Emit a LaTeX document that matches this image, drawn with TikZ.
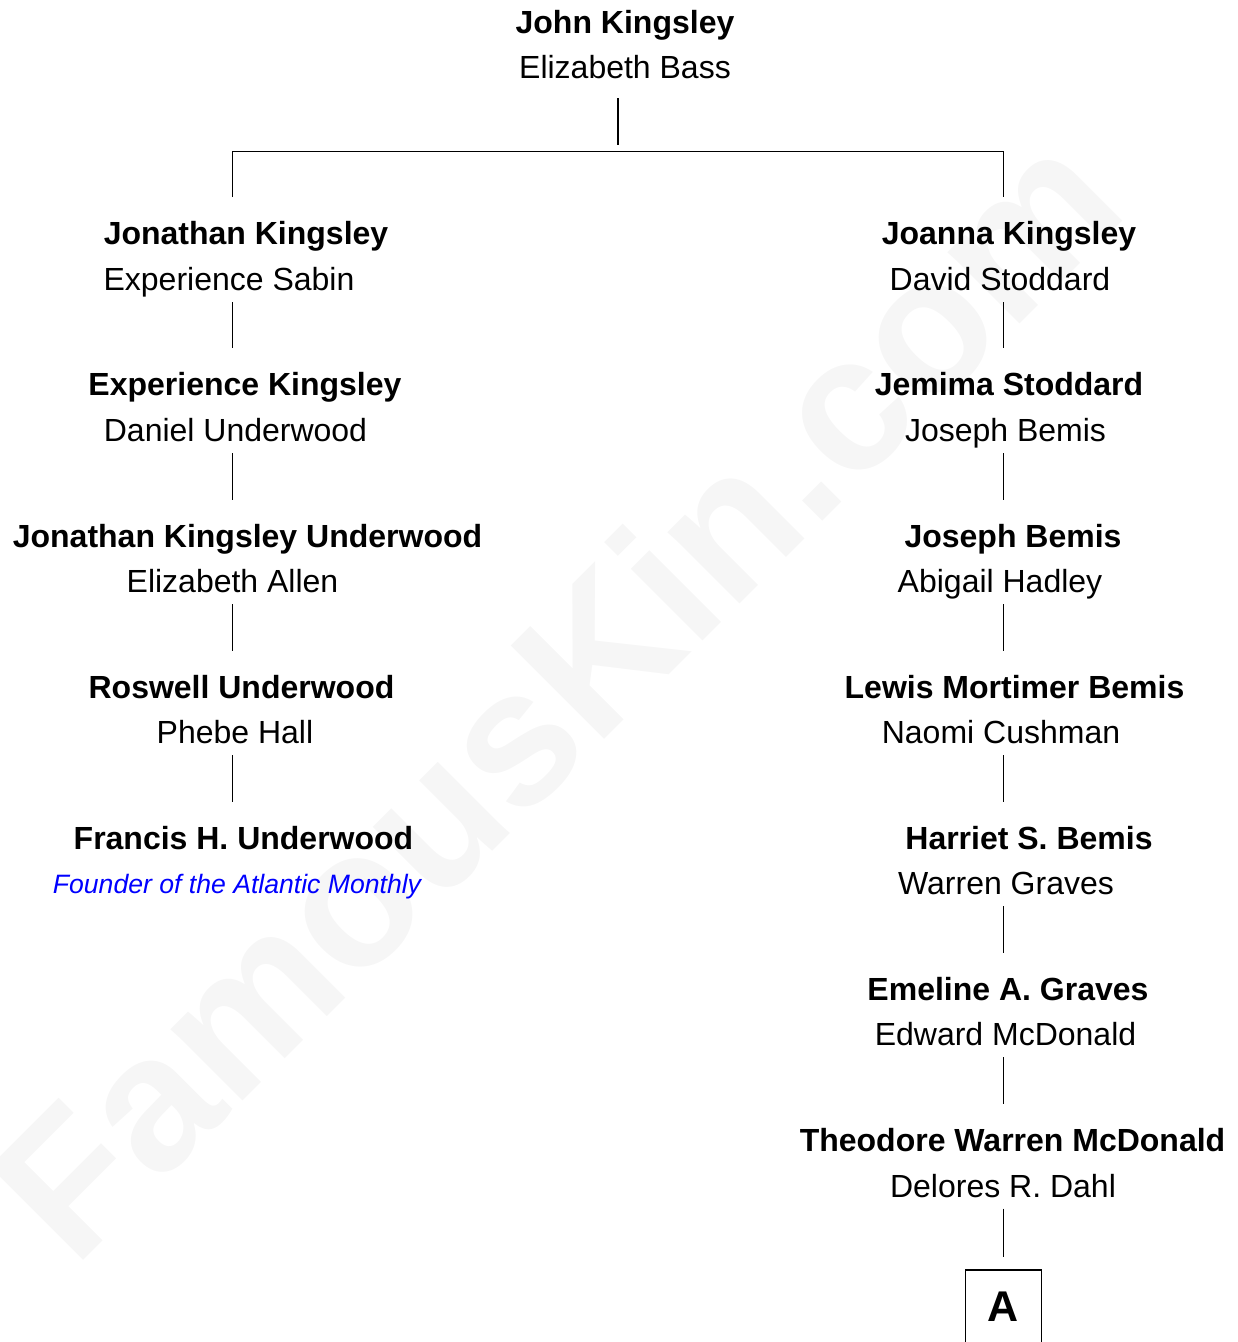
\documentclass[tikz,border=0pt]{standalone}
\usepackage{fontspec}
\setmainfont{Liberation Sans}
\definecolor{wmark}{HTML}{F6F6F6}
\begin{document}
\begin{tikzpicture}[x=1pt,y=-1pt,
 nm/.style={font=\fontsize{32}{32}\selectfont\bfseries,inner sep=0pt,anchor=base,text=black},
 sp/.style={font=\fontsize{32}{32}\selectfont,inner sep=0pt,anchor=base,text=black},
 note/.style={font=\fontsize{26.6}{27}\selectfont\itshape,inner sep=0pt,anchor=base,text=blue},
 link/.style={draw=black,line width=1.1pt},
 gen/.style={link,shorten <=12pt,shorten >=47pt}]
\useasboundingbox (0,0) rectangle (1238,1342);
\begin{scope}
\clip (0,0) rectangle (1238,1342);
\node[rotate=45,anchor=base west,font=\fontsize{192}{192}\selectfont\bfseries,text=wmark,inner sep=0pt] (wm) at (74.5,1269.5) {FamousKin.com};
\end{scope}
\coordinate (lx) at (232.3,0);
\coordinate (rx) at (1003.3,0);
\coordinate (cx) at (618,0);
\node[nm] (a0) at (625,33) {John Kingsley};
\node[sp] (a0s) at (625,78) {Elizabeth Bass};
% left
\node[nm] (l1) at (246,244) {Jonathan Kingsley};
\node[sp] (l1s) at (229,290) {Experience Sabin};
\node[nm] (l2) at (245,395) {Experience Kingsley};
\node[sp] (l2s) at (235.5,441) {Daniel Underwood};
\node[nm] (l3) at (247.5,547) {Jonathan Kingsley Underwood};
\node[sp] (l3s) at (232.5,592) {Elizabeth Allen};
\node[nm] (l4) at (241.5,698) {Roswell Underwood};
\node[sp] (l4s) at (235,743) {Phebe Hall};
\node[nm] (l5) at (243.5,849) {Francis H. Underwood};
\node[note] (l5s) at (237,893) {Founder of the Atlantic Monthly};
% right
\node[nm] (r1) at (1009,244) {Joanna Kingsley};
\node[sp] (r1s) at (1000,290) {David Stoddard};
\node[nm] (r2) at (1009,395) {Jemima Stoddard};
\node[sp] (r2s) at (1005.5,441) {Joseph Bemis};
\node[nm] (r3) at (1013,547) {Joseph Bemis};
\node[sp] (r3s) at (1000,592) {Abigail Hadley};
\node[nm] (r4) at (1014.5,698) {Lewis Mortimer Bemis};
\node[sp] (r4s) at (1001,743) {Naomi Cushman};
\node[nm] (r5) at (1029,849) {Harriet S. Bemis};
\node[sp] (r5s) at (1006,894) {Warren Graves};
\node[nm] (r6) at (1008,1000) {Emeline A. Graves};
\node[sp] (r6s) at (1005.5,1045) {Edward McDonald};
\node[nm] (r7) at (1012.5,1151) {Theodore Warren McDonald};
\node[sp] (r7s) at (1003,1197) {Delores R. Dahl};
\node[font=\fontsize{43}{43}\selectfont\bfseries,inner sep=0pt,anchor=base] (box) at (1003,1321.5) {A};
% top fork
\draw[link,shorten <=20pt,shorten >=7pt] (a0s.base -| cx) -- (cx |- 0,151.5);
\coordinate (jl) at (lx |- 0,151.5);
\coordinate (jr) at (rx |- 0,151.5);
\draw[link,shorten <=47pt] (l1.base -| lx) -- (jl) -- (jr);
\draw[link,shorten >=47pt] (jl) -- (jr) -- (r1.base -| rx);
% generation links
\foreach \a/\b in {l1s/l2,l2s/l3,l3s/l4,l4s/l5}
  \draw[gen] (\a.base -| lx) -- (\b.base -| lx);
\foreach \a/\b in {r1s/r2,r2s/r3,r3s/r4,r4s/r5,r5s/r6,r6s/r7}
  \draw[gen] (\a.base -| rx) -- (\b.base -| rx);
\draw[link,shorten <=11.5pt,shorten >=35pt] (r7s.base -| rx) -- (box.north -| rx);
% box, cut by the page edge
\draw[link] (965.2,1342)--(965.2,1270)--(1041.3,1270)--(1041.3,1342);
\end{tikzpicture}
\end{document}
